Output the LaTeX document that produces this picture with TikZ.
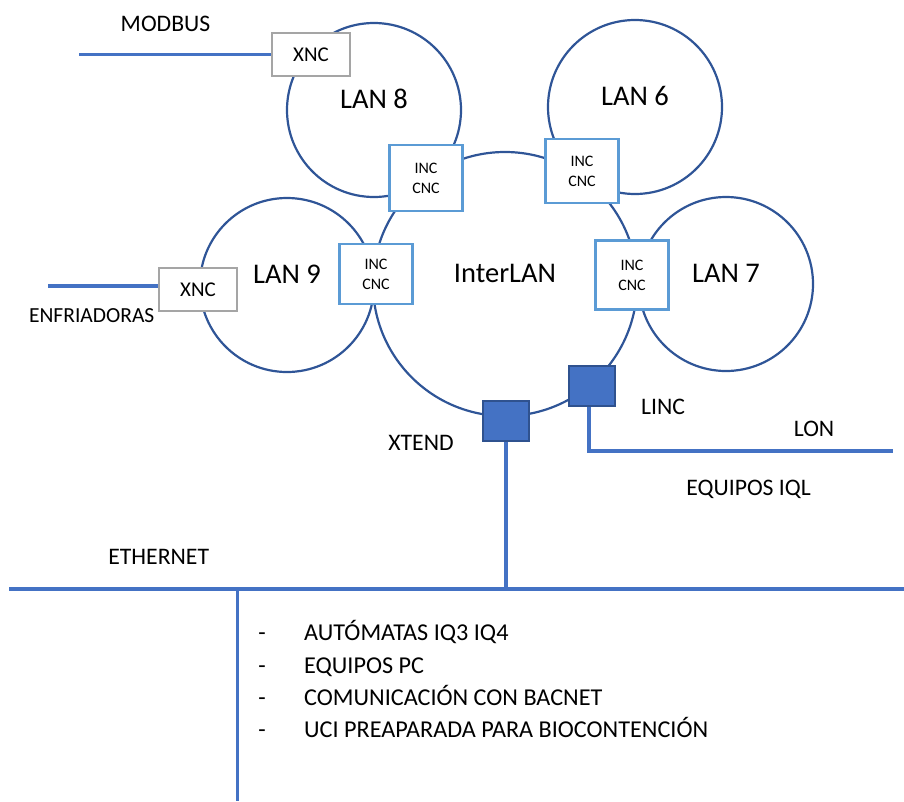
\documentclass[tikz,border=0pt]{standalone}
\usepackage{fontspec}
\setmainfont{Carlito}
\usepackage{xcolor}
\usepackage{tikz}
\usetikzlibrary{calc,positioning}

\definecolor{lanblue}{HTML}{2F5597}
\definecolor{incblue}{HTML}{5B9BD5}
\definecolor{xncgray}{HTML}{A5A5A5}
\definecolor{busblue}{HTML}{4472C4}
\definecolor{busedge}{HTML}{2F528F}

\begin{document}
\begin{tikzpicture}[x=1pt,y=-1pt]

\tikzset{lan/.style={circle, draw=lanblue, line width=2.2pt, minimum size=#1, inner sep=0pt},
lan/.default={174pt},
lanlabel/.style={font=\fontsize{28.5}{30}\selectfont, inner sep=0pt},
inc/.style={draw=incblue, fill=white, line width=2.5pt, minimum width=73pt, minimum height=#1, align=center, inner sep=0pt, font=\fontsize{16}{20}\selectfont},
xnc/.style={draw=xncgray, fill=white, line width=2.5pt, minimum width=78pt, minimum height=43pt, inner sep=0pt, font=\fontsize{21}{24}\selectfont},
gate/.style={draw=busedge, fill=busblue, line width=2pt, minimum width=46pt, minimum height=40pt, inner sep=0pt},
busline/.style={draw=busblue, line width=3.5pt},
tag/.style={font=\fontsize{23.7}{26}\selectfont, inner sep=0pt, anchor=base},
listtag/.style={font=\fontsize{24.2}{27}\selectfont, inner sep=0pt, anchor=base}}

\useasboundingbox (0,0) rectangle (904,801);

% the four LANs and the InterLAN ring
\foreach \n/\x/\y in {8/374/110, 6/635/107, 7/726/284, 9/287/285}
{
\node[lan] (lan\n) at (\x,\y) {};
\node[lanlabel] at ([yshift=11pt]lan\n.center) {LAN \n};
}
\node[lan=264pt] (interlan) at (505,284) {};
\node[lanlabel] at ([yshift=11pt]interlan.center) {InterLAN};

% INC / CNC routers on the ring
\foreach \n/\x/\y/\h in {8/426/178/66pt, 6/582/171/64pt, 7/632/275/69pt, 9/376/274/60pt}
\node[inc=\h] (inc\n) at (\x,\y) {INC\\CNC};

\node[xnc] (xnc8) at (311,54.5) {XNC};
\node[xnc] (xnc9) at (198,289.5) {XNC};

\node[gate] (xtend) at (506,421) {};
\node[gate] (linc) at (592,386) {};

% buses
\coordinate (modbusend) at (79,54.5);
\coordinate (enfend) at (48,286);
\coordinate (ethwest) at (9,589);
\coordinate (etheast) at (904,589);
\coordinate (ethdrop) at (237.7,589);
\coordinate (ethbottom) at (237.7,801);
\coordinate (lonend) at (893,451);

\draw[busline] (modbusend) -- (xnc8.west);
\draw[busline] (enfend) -- (enfend -| xnc9.west);
\draw[busline] (ethwest) -- (etheast);
\draw[busline] (xtend.south) -- (xtend.south |- ethwest);
\draw[busline] ([xshift=-3pt]linc.south) -- ([xshift=-3pt]linc.south |- lonend) -- (lonend);
\draw[busline] (ethdrop) -- (ethbottom);

\node[tag] at (165.5,31) {MODBUS};
\node[tag, font=\fontsize{21.5}{24}\selectfont] at (91.7,322.7) {ENFRIADORAS};
\node[tag] at (421,450) {XTEND};
\node[tag] at (663,414) {LINC};
\node[tag] at (814,436) {LON};
\node[tag] at (748.6,495) {EQUIPOS IQL};
\node[tag] at (158.7,564) {ETHERNET};

\foreach \i/\t in {0/AUTÓMATAS IQ3 IQ4, 1/EQUIPOS PC, 2/COMUNICACIÓN CON BACNET, 3/UCI PREAPARADA PARA BIOCONTENCIÓN}
{
\node[listtag] at (262,640.7+32.4*\i) {-};
\node[listtag, anchor=base west] at (304,640.7+32.4*\i) {\t};
}

\end{tikzpicture}
\end{document}
